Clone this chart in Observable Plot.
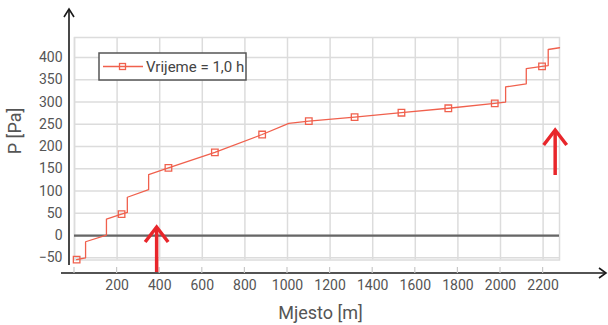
<!DOCTYPE html>
<html><head><meta charset="utf-8">
<script src="https://cdn.jsdelivr.net/npm/d3@7"></script>
<script src="https://cdn.jsdelivr.net/npm/@observablehq/plot@0.6"></script>
<style>
body{margin:0;background:#fff;}
#chart{position:relative;width:608px;height:325px;}
</style>
</head><body><div id="chart"></div>
<script>
// Line series: Mjesto [m] vs P [Pa]
const positionM = [10, 52, 52, 150, 150, 221, 248, 248, 348, 348, 441, 659, 881, 1006, 1100, 1315, 1535, 1755, 1973, 2024, 2024, 2121, 2121, 2195, 2224, 2224, 2277];
const pressurePa = [-54, -50, -14, 1, 37, 48, 52, 86, 103, 137, 152, 187, 227, 252, 257, 266, 276, 286, 297, 300, 334, 341, 375, 380, 382, 418, 422];
// Marker points
const markerM = [10, 221, 441, 659, 881, 1100, 1315, 1535, 1755, 1973, 2195];
const markerPa = [-54, 48, 152, 187, 227, 257, 266, 276, 286, 297, 380];
// Ticks
const xTicks = [0, 200, 400, 600, 800, 1000, 1200, 1400, 1600, 1800, 2000, 2200];
const yTicks = [-50, 0, 50, 100, 150, 200, 250, 300, 350, 400];
// Annotation arrows (data anchors of the tips)
const annotationM = [388, 2259];
const annotationTipPa = [18, 236];
const legendLabel = "Vrijeme = 1,0 h";

const lineColor = "#f0604d";
const lineData = positionM.map((x, i) => ({x, y: pressurePa[i]}));
const markerData = markerM.map((x, i) => ({x, y: markerPa[i]}));

const plot = Plot.plot({
  width: 608, height: 325,
  marginLeft: 74, marginRight: 49, marginTop: 37, marginBottom: 65.5,
  style: {fontFamily: "Roboto", fontSize: "14px", color: "#555", background: "#fff", overflow: "visible"},
  x: {domain: [0, 2277], ticks: xTicks, tickFormat: d => d === 0 ? "" : String(d), tickSize: 0, tickPadding: 20, label: null},
  y: {domain: [-55, 445], ticks: yTicks, tickSize: 0, tickPadding: 12, label: null},
  marks: [
    Plot.ruleX(xTicks, {stroke: "#dcdcdc", strokeWidth: 1.5}),
    Plot.ruleY(yTicks, {stroke: "#dcdcdc", strokeWidth: 1.5}),
    Plot.frame({stroke: "#dcdcdc", strokeWidth: 1.5}),
    Plot.ruleY([0], {stroke: "#666", strokeWidth: 2.2}),
    Plot.line(lineData, {x: "x", y: "y", stroke: lineColor, strokeWidth: 1.3, curve: "linear"}),
    Plot.dot(markerData, {x: "x", y: "y", symbol: "square", r: 3.7, stroke: lineColor, fill: "none", strokeWidth: 1.3})
  ]
});

document.getElementById("chart").appendChild(plot);

const svg = d3.select(plot);
const xs = plot.scale("x"), ys = plot.scale("y");
const [xL, xR] = xs.range;
const [yB, yT] = ys.range;
const W = 608;
const dark = "#1a1a1a";

// Y axis arrow
const yAxX = xL - 5;
svg.append("line").attr("x1", yAxX).attr("x2", yAxX).attr("y1", yB + 5.5).attr("y2", yT - 27)
  .attr("stroke", dark).attr("stroke-width", 1.6);
svg.append("path").attr("d", `M${yAxX - 5},${yT - 20} L${yAxX},${yT - 28} L${yAxX + 5},${yT - 20}`)
  .attr("fill", "none").attr("stroke", dark).attr("stroke-width", 1.6);

// X axis arrow
const xAxY = yB + 13.5;
svg.append("line").attr("x1", xL - 13).attr("x2", W - 3).attr("y1", xAxY).attr("y2", xAxY)
  .attr("stroke", dark).attr("stroke-width", 1.6);
svg.append("path").attr("d", `M${W - 9},${xAxY - 5} L${W - 2},${xAxY} L${W - 9},${xAxY + 5}`)
  .attr("fill", "none").attr("stroke", dark).attr("stroke-width", 1.6);
// x tick marks
xTicks.forEach(t => {
  const px = xs.apply(t);
  svg.append("line").attr("x1", px).attr("x2", px).attr("y1", xAxY - 6).attr("y2", xAxY)
    .attr("stroke", "#c8c8c8").attr("stroke-width", 1.2);
});

// Axis titles
svg.append("text").attr("x", (xL + xR) / 2 + 4).attr("y", 319).attr("text-anchor", "middle")
  .attr("font-family", "Roboto").attr("font-size", 18).attr("fill", "#555").text("Mjesto [m]");
svg.append("text").attr("transform", `translate(21,131) rotate(-90)`).attr("text-anchor", "middle")
  .attr("font-family", "Roboto").attr("font-size", 18).attr("fill", "#555").text("P [Pa]");

// Legend
const lg = svg.append("g").attr("transform", `translate(${xL + 25},${yT + 16})`);
lg.append("rect").attr("x", 0).attr("y", 0).attr("width", 147).attr("height", 27)
  .attr("fill", "#fff").attr("stroke", "#555").attr("stroke-width", 1.5);
lg.append("line").attr("x1", 4).attr("x2", 44).attr("y1", 13.5).attr("y2", 13.5)
  .attr("stroke", lineColor).attr("stroke-width", 1.3);
lg.append("rect").attr("x", 20.5).attr("y", 10.5).attr("width", 6).attr("height", 6)
  .attr("fill", "none").attr("stroke", lineColor).attr("stroke-width", 1.3);
lg.append("text").attr("x", 47).attr("y", 19).attr("text-anchor", "start").attr("font-family", "Roboto").attr("font-size", 15)
  .attr("fill", "#444").text(legendLabel);

// Red annotation arrows
annotationM.forEach((m, i) => {
  const px = xs.apply(m), py = ys.apply(annotationTipPa[i]);
  svg.append("line").attr("x1", px).attr("x2", px).attr("y1", py + 2).attr("y2", py + 45)
    .attr("stroke", "#e8262b").attr("stroke-width", 3.5);
  svg.append("path").attr("d", `M${px - 11.5},${py + 15} L${px},${py} L${px + 11.5},${py + 15}`)
    .attr("fill", "none").attr("stroke", "#e8262b").attr("stroke-width", 3.5).attr("stroke-linejoin", "miter");
});
</script>
</body></html>
